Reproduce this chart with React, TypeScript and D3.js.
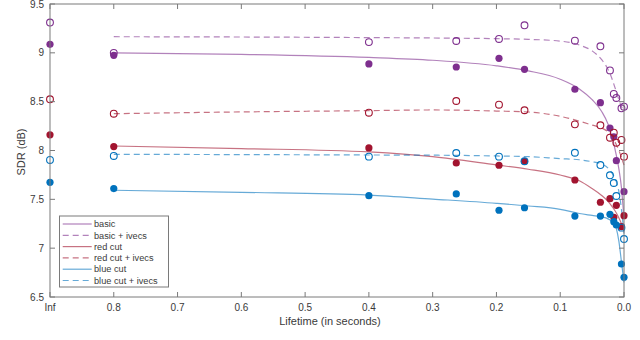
import * as d3 from 'd3';

// lifetimes (s) of the measured points; "Inf" sits one tick left of 0.8
const INF_POS = 0.9;
const lifetimes = [0.8, 0.4, 0.263, 0.196, 0.156, 0.077, 0.037, 0.022, 0.016, 0.012, 0.004, 0];

const basic = [8.975, 8.886, 8.855, 8.944, 8.831, 8.627, 8.49, 8.23, 8.141, 7.896, null, 7.578];
const basicIvecs = [9.0, 9.11, 9.121, 9.142, 9.282, 9.124, 9.067, 8.82, 8.579, 8.538, 8.432, 8.449];
const redCut = [8.04, 8.026, 7.872, 7.849, 7.89, 7.698, 7.47, 7.507, 7.316, 7.439, 7.22, 7.333];
const redCutIvecs = [8.377, 8.387, 8.507, 8.469, 8.412, 8.268, 8.258, 8.131, 8.182, 8.08, 8.108, 7.937];
const blueCut = [7.61, 7.537, 7.555, 7.388, 7.414, 7.329, 7.329, 7.347, 7.271, 7.237, 6.838, 6.702];
const blueCutIvecs = [7.944, 7.937, 7.974, 7.937, 7.89, 7.977, 7.851, 7.746, 7.667, 7.534, 7.21, 7.094];

// values at lifetime = Inf
const infValues = [9.087, 9.31, 8.16, 8.524, 7.674, 7.903];

// fitted curves
const fitLifetimes = [0.8, 0.6, 0.4, 0.3, 0.2, 0.15, 0.1, 0.07, 0.05, 0.035, 0.025, 0.018, 0.012, 0.008, 0.004, 0];
const basicFit = [9.0, 8.984, 8.953, 8.924, 8.867, 8.815, 8.73, 8.63, 8.52, 8.4, 8.27, 8.12, 7.95, 7.81, 7.62, 7.3];
const basicIvecsFit = [9.165, 9.162, 9.156, 9.152, 9.145, 9.138, 9.12, 9.08, 9.02, 8.93, 8.83, 8.72, 8.6, 8.52, 8.45, 8.4];
const redCutFit = [8.046, 8.02, 7.985, 7.937, 7.852, 7.808, 7.749, 7.69, 7.61, 7.54, 7.48, 7.42, 7.36, 7.31, 7.25, 7.17];
const redCutIvecsFit = [8.377, 8.395, 8.408, 8.415, 8.404, 8.394, 8.35, 8.3, 8.26, 8.23, 8.19, 8.13, 8.06, 8.0, 7.93, 7.85];
const blueCutFit = [7.593, 7.572, 7.544, 7.503, 7.459, 7.432, 7.398, 7.355, 7.335, 7.32, 7.3, 7.27, 7.2, 7.07, 6.86, 6.65];
const blueCutIvecsFit = [7.961, 7.958, 7.954, 7.952, 7.944, 7.937, 7.917, 7.905, 7.885, 7.86, 7.82, 7.76, 7.68, 7.58, 7.4, 7.15];

const seriesNames = ['basic', 'basic + ivecs', 'red cut', 'red cut + ivecs', 'blue cut', 'blue cut + ivecs'];
const xTicks = [0.9, 0.8, 0.7, 0.6, 0.5, 0.4, 0.3, 0.2, 0.1, 0.0];
const xTickLabels = ['Inf', '0.8', '0.7', '0.6', '0.5', '0.4', '0.3', '0.2', '0.1', '0.0'];
const yTicks = [6.5, 7, 7.5, 8, 8.5, 9, 9.5];

const W = 640;
const H = 340;
const left = 50, right = 624, top = 4, bottom = 297;
const font = '"Liberation Sans", Arial, sans-serif';
const axisColor = '#7a7a7a';
const textColor = '#3a3a3a';

const colors = ['#7E2F8E', '#7E2F8E', '#A2142F', '#A2142F', '#0072BD', '#0072BD'];

export default function App() {
  const x = d3.scaleLinear().domain([INF_POS, 0]).range([left, right]);
  const y = d3.scaleLinear().domain([6.5, 9.5]).range([bottom, top]);

  const points = [basic, basicIvecs, redCut, redCutIvecs, blueCut, blueCutIvecs];
  const fits = [basicFit, basicIvecsFit, redCutFit, redCutIvecsFit, blueCutFit, blueCutIvecsFit];

  const line = d3.line<[number, number]>()
    .x(d => x(d[0]))
    .y(d => y(d[1]))
    .curve(d3.curveMonotoneX);

  const legendX = 59.5, legendY = 216, legendW = 109, legendH = 71;
  const rowY = (i: number) => 224 + i * 11.3;

  return (
    <svg width={W} height={H} style={{ position: 'absolute', left: 0, top: 0, background: '#fff' }}>
      <rect x={0} y={0} width={W} height={H} fill="#fff" />

      {/* fitted curves */}
      {fits.map((f, i) => (
        <path
          key={'fit' + i}
          d={line(fitLifetimes.map((t, j) => [t, f[j]] as [number, number])) || ''}
          fill="none"
          stroke={colors[i]}
          strokeOpacity={0.6}
          strokeWidth={1.2}
          strokeDasharray={i % 2 === 1 ? '6,4' : undefined}
        />
      ))}

      {/* markers */}
      {points.map((vals, i) => {
        const open = i % 2 === 1;
        const pts = vals
          .map((v, j) => (v == null ? null : [lifetimes[j], v]))
          .filter(Boolean) as [number, number][];
        pts.unshift([INF_POS, infValues[i]]);
        return (
          <g key={'pts' + i}>
            {pts.map((p, j) => (
              <circle
                key={j}
                cx={x(p[0])}
                cy={y(p[1])}
                r={open ? 3.4 : 3.6}
                fill={open ? 'none' : colors[i]}
                stroke={colors[i]}
                strokeWidth={open ? 1.1 : 0}
              />
            ))}
          </g>
        );
      })}

      {/* axes box */}
      <rect x={left} y={top} width={right - left} height={bottom - top} fill="none" stroke={axisColor} strokeWidth={1} />
      {xTicks.map((t, i) => (
        <g key={'xt' + i}>
          <line x1={x(t)} x2={x(t)} y1={bottom} y2={bottom - 5} stroke={axisColor} />
          <line x1={x(t)} x2={x(t)} y1={top} y2={top + 5} stroke={axisColor} />
          <text x={x(t)} y={311} textAnchor="middle" fontSize={10} fontFamily={font} fill={textColor}>
            {xTickLabels[i]}
          </text>
        </g>
      ))}
      {yTicks.map((t, i) => (
        <g key={'yt' + i}>
          <line x1={left} x2={left + 5} y1={y(t)} y2={y(t)} stroke={axisColor} />
          <line x1={right} x2={right - 5} y1={y(t)} y2={y(t)} stroke={axisColor} />
          <text x={44} y={y(t)} dy="0.35em" textAnchor="end" fontSize={10} fontFamily={font} fill={textColor}>
            {String(t)}
          </text>
        </g>
      ))}

      <text x={330} y={325} textAnchor="middle" fontSize={11} fontFamily={font} fill={textColor}>
        Lifetime (in seconds)
      </text>
      <text
        transform={`translate(21,152) rotate(-90)`}
        textAnchor="middle"
        dy="0.35em"
        fontSize={11}
        fontFamily={font}
        fill={textColor}
      >
        SDR (dB)
      </text>

      {/* legend */}
      <rect x={legendX} y={legendY} width={legendW} height={legendH} fill="#fff" stroke={axisColor} strokeWidth={1} />
      {seriesNames.map((name, i) => (
        <g key={'lg' + i}>
          <line
            x1={62.7}
            x2={91.7}
            y1={rowY(i)}
            y2={rowY(i)}
            stroke={colors[i]}
            strokeOpacity={0.6}
            strokeWidth={1.2}
            strokeDasharray={i % 2 === 1 ? '6,4' : undefined}
          />
          <text x={94} y={rowY(i)} dy="0.35em" fontSize={9.2} fontFamily={font} fill={textColor}>
            {name}
          </text>
        </g>
      ))}
    </svg>
  );
}
